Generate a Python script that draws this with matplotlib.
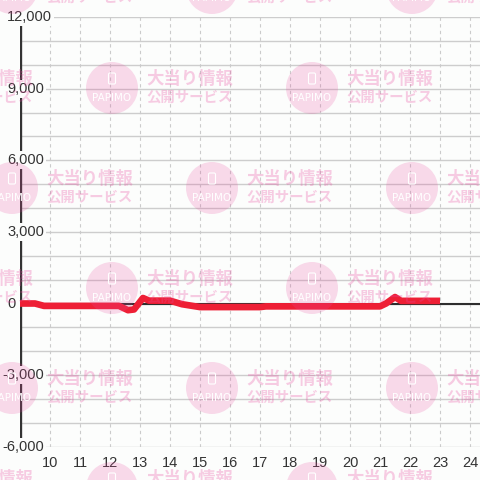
import matplotlib
matplotlib.use("Agg")
import matplotlib.pyplot as plt
from matplotlib.patches import Circle, FancyBboxPatch
from matplotlib.transforms import blended_transform_factory

# ---- data ----
hours = [9.0, 9.5, 9.8, 12.3, 12.6, 12.8, 13.1, 13.3, 14.0, 14.4, 15.0, 17.0, 17.2, 21.0, 21.2, 21.5, 21.7, 23.0]
values = [0, 0, -100, -100, -280, -250, 230, 120, 120, -30, -150, -150, -120, -120, 0, 270, 110, 110]
x_ticks = list(range(10, 25))
y_ticks = [-6000, -3000, 0, 3000, 6000, 9000, 12000]
y_tick_labels = ["-6,000", "-3,000", "0", "3,000", "6,000", "9,000", "12,000"]
wm_line1 = "大当り情報"
wm_line2 = "公開サービス"
wm_brand = "PAPIMO"

BG = "#fcfdfc"
W = H = 480
fig = plt.figure(figsize=(4.8, 4.8), dpi=100, facecolor=BG)
ax = fig.add_axes([20 / W, 1 - 446.75 / H, 460 / W, (446.75 - 17) / H])
ax.set_facecolor(BG)
ax.set_xlim(9, 24 + 1 / 3)
ax.set_ylim(-6000, 12000)

for s in ax.spines.values():
    s.set_visible(False)

# horizontal grid every 1000
for yv in range(-6000, 12001, 1000):
    ax.axhline(yv, color="#cdcdcd", lw=1.0, zorder=0.5)
# vertical dashed grid
for xv in x_ticks:
    ax.axvline(xv, color="#cbcbcb", lw=0.8, ls=(0, (3, 3)), zorder=0.5)

# zero line and left axis line
ax.axhline(0, color="#2e2e2e", lw=1.5, zorder=1)
ax.axvline(9, color="#333333", lw=2.4, zorder=1)

# data line
ax.plot(hours, values, color="#ee1f35", lw=4.8, solid_joinstyle="round",
        solid_capstyle="butt", zorder=3)

ax.set_xticks(x_ticks)
ax.set_xticklabels([str(v) for v in x_ticks])
ax.set_yticks(y_ticks)
ax.set_yticklabels([])
ax.tick_params(axis="x", length=0, pad=7, labelsize=10.5, labelcolor="#333333")
ax.tick_params(axis="y", length=0)
for lab in ax.get_xticklabels():
    lab.set_fontfamily("Liberation Sans")

# y labels: left aligned near the figure edge, masking the axis line behind them
ytr = blended_transform_factory(fig.transFigure, ax.transData)
for yv, lab in zip(y_ticks, y_tick_labels):
    xpx = 2.5 if lab.startswith("-") else 7
    ax.text(xpx / W, yv, lab, transform=ytr, ha="left", va="center",
            fontsize=10.5, family="Liberation Sans", color="#333333",
            bbox=dict(facecolor=BG, edgecolor="none", pad=1.5),
            zorder=6, clip_on=False)

# ---- watermark tiles ----
PINK = "#e94a9f"
def fx(px):
    return px / W
def fy(py):
    return 1 - py / H

for j in range(-1, 6):
    cy = -12 + 100 * j
    off = 12 if j % 2 == 0 else 112
    for k in range(-1, 3):
        cx = off + 200 * k
        fig.patches.append(Circle((fx(cx), fy(cy)), 26 / W, transform=fig.transFigure,
                                  facecolor=PINK, edgecolor="none", alpha=0.2, zorder=10))
        fig.patches.append(FancyBboxPatch((fx(cx - 3.5), fy(cy - 4)), 7 / W, 11 / H,
                                          boxstyle="round,pad=0,rounding_size=0.003",
                                          transform=fig.transFigure, facecolor="none",
                                          edgecolor="white", lw=0.8, zorder=11))
        fig.text(fx(cx), fy(cy + 10), wm_brand, color="white", fontsize=7.5,
                 family="DejaVu Sans", ha="center", va="center", zorder=11)
        fig.text(fx(cx + 34), fy(cy - 9), wm_line1, color=PINK, alpha=0.28,
                 fontsize=12.5, family=["Noto Sans CJK JP", "DejaVu Sans"], weight="bold",
                 ha="left", va="center", zorder=10)
        fig.text(fx(cx + 34), fy(cy + 10), wm_line2, color=PINK, alpha=0.28,
                 fontsize=10.4, family=["Noto Sans CJK JP", "DejaVu Sans"], weight="bold",
                 ha="left", va="center", zorder=10)

fig.savefig("out.png", dpi=100, facecolor=BG)
